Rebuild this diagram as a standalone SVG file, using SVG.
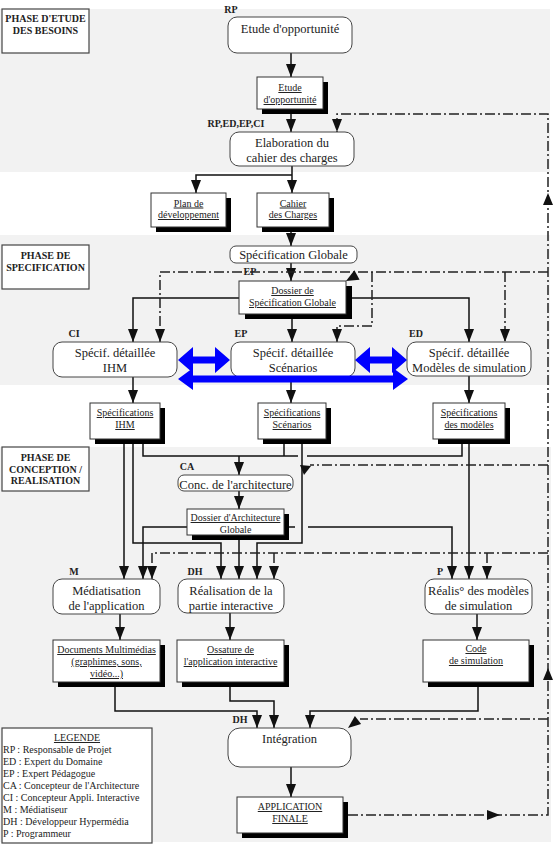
<svg xmlns="http://www.w3.org/2000/svg" width="557" height="846" viewBox="0 0 557 846">
<style>
.band{fill:#f2f2f2}
.phase{fill:#fff;stroke:#444;stroke-width:1.2}
.node rect{fill:#fff;stroke:#444;stroke-width:1}
.doc .sh{fill:#000}
.doc .bx{fill:#fff;stroke:#333;stroke-width:1}
text{font-family:"Liberation Serif","Times New Roman",serif;fill:#222;text-anchor:middle}
.n{font-size:12.5px}
.d{font-size:10px;text-decoration:underline}
.nu{font-size:10px}
.l{font-size:10px;font-weight:bold}
.ph{font-size:10px;font-weight:bold}
.lg{font-size:10px;text-anchor:start}
.c{stroke:#111;stroke-width:1.5;fill:none}
.dd{stroke:#222;stroke-width:1.5;fill:none;stroke-dasharray:10 3 2 3}
.ah{fill:#111}
.blue{fill:#0000ff}
</style>
<defs>
<marker id="a" viewBox="0 0 13 10" refX="13" refY="5" markerWidth="13" markerHeight="10" markerUnits="userSpaceOnUse" orient="auto">
<path d="M0,0 L13,5 L0,10 z" fill="#111"/>
</marker>
</defs>

<!-- bands -->
<rect class="band" x="0" y="9" width="550" height="163"/>
<rect class="band" x="0" y="235" width="550" height="150"/>
<rect class="band" x="0" y="447" width="551" height="395"/>

<!-- phase labels -->
<g id="phase1">
<rect class="phase" x="2" y="9" width="87" height="44"/>
<text class="ph" x="45.5" y="22">PHASE D'ETUDE</text>
<text class="ph" x="45.5" y="34">DES BESOINS</text>
</g>
<g id="phase2">
<rect class="phase" x="2" y="245" width="87" height="44"/>
<text class="ph" x="45.5" y="259">PHASE DE</text>
<text class="ph" x="45.5" y="271">SPECIFICATION</text>
</g>
<g id="phase3">
<rect class="phase" x="2" y="447" width="87" height="44"/>
<text class="ph" x="45.5" y="461">PHASE DE</text>
<text class="ph" x="45.5" y="473">CONCEPTION /</text>
<text class="ph" x="45.5" y="484">REALISATION</text>
</g>

<!-- connectors -->
<g id="connectors">
<path class="c" d="M291 53 V77" marker-end="url(#a)"/>
<path class="c" d="M291 109 V132" marker-end="url(#a)"/>
<path class="c" d="M292 166 V193" marker-end="url(#a)"/>
<path class="c" d="M292 175 H196 V193" marker-end="url(#a)"/>
<path class="c" d="M291 227 V246" marker-end="url(#a)"/>
<path class="c" d="M291 263 V281" marker-end="url(#a)"/>
<path class="c" d="M239 298 H133 V342" marker-end="url(#a)"/>
<path class="c" d="M346 298 H469 V342" marker-end="url(#a)"/>
<path class="c" d="M292 314 V342" marker-end="url(#a)"/>
<path class="c" d="M133 377 V403" marker-end="url(#a)"/>
<path class="c" d="M291 377 V403" marker-end="url(#a)"/>
<path class="c" d="M469 375 V403" marker-end="url(#a)"/>

<path class="c" d="M124 439 V579" marker-end="url(#a)"/>
<path class="c" d="M133 439 V543 H221 V579" marker-end="url(#a)"/>
<path class="c" d="M143 439 V456 H298"/>
<path class="c" d="M307 456 H462 V439"/>
<path class="c" d="M284 439 V456"/>
<path class="c" d="M239 456 V475" marker-end="url(#a)"/>
<path class="c" d="M302 439 V543 H257 V579" marker-end="url(#a)"/>
<path class="c" d="M239 491 V509" marker-end="url(#a)"/>
<path class="c" d="M187 527 H143 V579" marker-end="url(#a)"/>
<path class="c" d="M239 535 V579" marker-end="url(#a)"/>
<path class="c" d="M284 527 H295"/>
<path class="c" d="M308 527 H452 V579" marker-end="url(#a)"/>
<path class="c" d="M469 439 V579" marker-end="url(#a)"/>

<path class="c" d="M120 614 V640" marker-end="url(#a)"/>
<path class="c" d="M230 613 V640" marker-end="url(#a)"/>
<path class="c" d="M477 614 V640" marker-end="url(#a)"/>
<path class="c" d="M115 682 V711 H257 V728" marker-end="url(#a)"/>
<path class="c" d="M230 682 V701 H274 V728" marker-end="url(#a)"/>
<path class="c" d="M478 682 V711 H310 V728" marker-end="url(#a)"/>
<path class="c" d="M291 767 V797" marker-end="url(#a)"/>

<!-- dash-dot feedback -->
<path class="dd" d="M348 815 H548 V114 H337 V132" marker-end="url(#a)"/>
<path class="dd" d="M548 272 H160 V342" marker-end="url(#a)"/>
<path class="dd" d="M505 272 V342" marker-end="url(#a)"/>
<path class="dd" d="M372 272 V326 H337 V342" marker-end="url(#a)"/>
<path class="dd" d="M548 465 H310"/>
<path class="dd" d="M548 553 H152 V579" marker-end="url(#a)"/>
<path class="dd" d="M274 553 V579" marker-end="url(#a)"/>
<path class="dd" d="M487 553 V579" marker-end="url(#a)"/>
<path class="dd" d="M548 719 H360"/>
<polygon class="ah" points="548,193 543,205 553,205"/>
<polygon class="ah" points="548,668 543,680 553,680"/>
<polygon class="ah" points="500,815 487,810 487,820"/>
<polygon class="ah" points="346,281 354.4,270.2 359.6,279.8"/>
<polygon class="ah" points="348,728 354.9,716.1 361.1,723.9"/>
<polygon class="ah" points="300,465 311,466 304,475"/>
</g>

<!-- phase 1 nodes -->
<text class="l" x="231" y="13">RP</text>
<g id="n-etude" class="node">
<rect x="228" y="17" width="124" height="36" rx="9"/>
<text class="n" x="290" y="33">Etude d'opportunité</text>
</g>
<g id="d-etude" class="doc">
<rect class="sh" x="262" y="82" width="66" height="32"/>
<rect class="bx" x="257" y="77" width="66" height="32"/>
<text class="d" x="290" y="91">Etude</text>
<text class="d" x="290" y="103">d'opportunité</text>
</g>
<text class="l" x="236" y="127">RP,ED,EP,CI</text>
<g id="n-elab" class="node">
<rect x="230" y="132" width="124" height="34" rx="9"/>
<text class="n" x="292" y="147">Elaboration du</text>
<text class="n" x="292" y="162">cahier des charges</text>
</g>
<g id="d-plan" class="doc">
<rect class="sh" x="156" y="198" width="75" height="34"/>
<rect class="bx" x="151" y="193" width="75" height="34"/>
<text class="d" x="188.5" y="206.5">Plan de</text>
<text class="d" x="188.5" y="218">développement</text>
</g>
<g id="d-cahier" class="doc">
<rect class="sh" x="262" y="198" width="72" height="34"/>
<rect class="bx" x="257" y="193" width="72" height="34"/>
<text class="d" x="293" y="206.5">Cahier</text>
<text class="d" x="293" y="218">des Charges</text>
</g>

<!-- phase 2 nodes -->
<g id="n-specglob" class="node">
<rect x="230" y="246" width="127" height="17" rx="6"/>
<text class="n" x="293.5" y="259">Spécification Globale</text>
</g>
<text class="l" x="250" y="275">EP</text>
<g id="d-dossierspec" class="doc">
<rect class="sh" x="245" y="286" width="107" height="33"/>
<rect class="bx" x="239" y="281" width="107" height="33"/>
<text class="d" x="292.5" y="294">Dossier de</text>
<text class="d" x="292.5" y="306">Spécification Globale</text>
</g>
<text class="l" x="74" y="337">CI</text>
<text class="l" x="241" y="337">EP</text>
<text class="l" x="416" y="337">ED</text>
<g id="n-ihm" class="node">
<rect x="53" y="342" width="124" height="35" rx="9"/>
<text class="n" x="115" y="357">Spécif. détaillée</text>
<text class="n" x="115" y="372">IHM</text>
</g>
<g id="n-scen" class="node">
<rect x="231" y="342" width="124" height="35" rx="9"/>
<text class="n" x="293" y="357">Spécif. détaillée</text>
<text class="n" x="293" y="372">Scénarios</text>
</g>
<g id="n-mod" class="node">
<rect x="407" y="342" width="124" height="34" rx="9"/>
<text class="n" x="469" y="357">Spécif. détaillée</text>
<text class="n" x="469" y="372">Modèles de simulation</text>
</g>

<!-- blue double arrows -->
<g id="blue-arrows">
<polygon class="blue" points="178,360 193,347 193,356.5 215,356.5 215,347 230,360 215,373 215,363.5 193,363.5 193,373"/>
<polygon class="blue" points="355,360 370,347 370,356.5 392,356.5 392,347 407,360 392,373 392,363.5 370,363.5 370,373"/>
<polygon class="blue" points="178,379 193,368 193,375.5 393,375.5 393,368 408,379 393,390 393,382.5 193,382.5 193,390"/>
</g>

<!-- spec docs -->
<g id="d-specihm" class="doc">
<rect class="sh" x="95" y="408" width="70" height="36"/>
<rect class="bx" x="90" y="403" width="70" height="36"/>
<text class="d" x="125" y="416">Spécifications</text>
<text class="d" x="125" y="428">IHM</text>
</g>
<g id="d-specscen" class="doc">
<rect class="sh" x="263" y="408" width="68" height="36"/>
<rect class="bx" x="258" y="403" width="68" height="36"/>
<text class="d" x="292" y="416">Spécifications</text>
<text class="d" x="292" y="428">Scénarios</text>
</g>
<g id="d-specmod" class="doc">
<rect class="sh" x="438" y="408" width="72" height="36"/>
<rect class="bx" x="433" y="403" width="72" height="36"/>
<text class="d" x="469" y="416">Spécifications</text>
<text class="d" x="469" y="428">des modèles</text>
</g>

<!-- phase 3 nodes -->
<text class="l" x="187" y="470">CA</text>
<g id="n-conc" class="node">
<rect x="178" y="475" width="115" height="16" rx="6"/>
<text class="n" x="235.5" y="488.5">Conc. de l'architecture</text>
</g>
<g id="d-dossierarch" class="doc">
<rect class="sh" x="192" y="514" width="97" height="26"/>
<rect class="bx" x="187" y="509" width="97" height="26"/>
<text class="d" x="235.5" y="521">Dossier d'Architecture</text>
<text class="nu" x="235.5" y="533">Globale</text>
</g>
<text class="l" x="74" y="575">M</text>
<text class="l" x="195" y="575">DH</text>
<text class="l" x="440" y="575">P</text>
<g id="n-media" class="node">
<rect x="53" y="579" width="107" height="35" rx="9"/>
<text class="n" x="106.5" y="595">Médiatisation</text>
<text class="n" x="106.5" y="610">de l'application</text>
</g>
<g id="n-real" class="node">
<rect x="178" y="579" width="106" height="34" rx="9"/>
<text class="n" x="231" y="595">Réalisation de la</text>
<text class="n" x="231" y="610">partie interactive</text>
</g>
<g id="n-realmod" class="node">
<rect x="425" y="579" width="107" height="35" rx="9"/>
<text class="n" x="478.5" y="595">Réalis° des modèles</text>
<text class="n" x="478.5" y="610">de simulation</text>
</g>
<g id="d-docmulti" class="doc">
<rect class="sh" x="58" y="645" width="107" height="42"/>
<rect class="bx" x="53" y="640" width="107" height="42"/>
<text class="d" x="106.5" y="653">Documents Multimédias</text>
<text class="d" x="106.5" y="665">(graphimes, sons,</text>
<text class="d" x="106.5" y="677">vidéo...)</text>
</g>
<g id="d-ossature" class="doc">
<rect class="sh" x="182" y="645" width="107" height="42"/>
<rect class="bx" x="177" y="640" width="107" height="42"/>
<text class="d" x="230.5" y="653">Ossature de</text>
<text class="d" x="230.5" y="665">l'application interactive</text>
</g>
<g id="d-code" class="doc">
<rect class="sh" x="428" y="645" width="106" height="42"/>
<rect class="bx" x="423" y="640" width="106" height="42"/>
<text class="d" x="476" y="652">Code</text>
<text class="d" x="476" y="664">de simulation</text>
</g>
<text class="l" x="240" y="723">DH</text>
<g id="n-integ" class="node">
<rect x="228" y="728" width="123" height="39" rx="12"/>
<text class="n" x="289.5" y="743">Intégration</text>
</g>
<g id="d-appfinale" class="doc">
<rect class="sh" x="242" y="802" width="106" height="36"/>
<rect class="bx" x="237" y="797" width="106" height="36"/>
<text class="d" x="290" y="810">APPLICATION</text>
<text class="d" x="290" y="822">FINALE</text>
</g>

<!-- legend -->
<g id="legend">
<rect class="phase" x="2" y="728" width="150" height="115"/>
<text class="d" x="77" y="741">LEGENDE</text>
<text class="lg" x="3" y="753">RP : Responsable de Projet</text>
<text class="lg" x="3" y="765">ED : Expert du Domaine</text>
<text class="lg" x="3" y="777">EP : Expert Pédagogue</text>
<text class="lg" x="3" y="789">CA : Concepteur de l'Architecture</text>
<text class="lg" x="3" y="801">CI : Concepteur Appli. Interactive</text>
<text class="lg" x="3" y="813">M : Médiatiseur</text>
<text class="lg" x="3" y="825">DH : Développeur Hypermédia</text>
<text class="lg" x="3" y="837">P : Programmeur</text>
</g>
</svg>
